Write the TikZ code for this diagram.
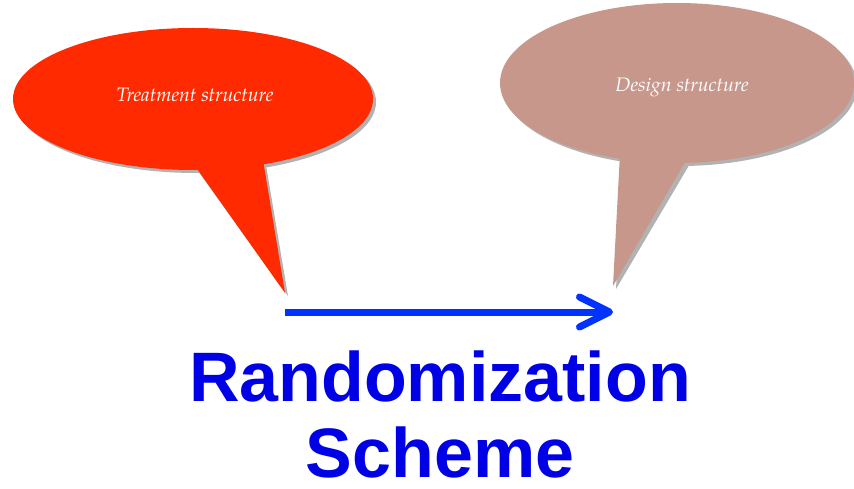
\documentclass[tikz,border=0pt]{standalone}
\usepackage{fontspec}
\setmainfont{Liberation Sans}
\newfontfamily\bubblefont{TeX Gyre Pagella}
\usetikzlibrary{shapes.geometric,arrows.meta}
\definecolor{bubred}{HTML}{FF2A00}
\definecolor{bubbrown}{HTML}{C8978C}
\definecolor{arrblue}{HTML}{0033FF}
\definecolor{txtblue}{HTML}{0000E6}
\tikzset{
  bubble/.style={ellipse, inner sep=0pt},
  shadowfill/.style={fill=black!30},
  bubtext/.style={text=white, font=\bubblefont\itshape\fontsize{19.5}{22}\selectfont},
  bigtext/.style={text=txtblue, inner sep=0pt, font=\bfseries\fontsize{70}{78}\selectfont}
}
\begin{document}
\begin{tikzpicture}[x=1pt,y=-1pt]
\useasboundingbox (0,0) rectangle (854,489);
% shadows
\begin{scope}[shift={(3,3)}]
  \fill[shadowfill] (193,99) ellipse [x radius=180, y radius=71];
  \fill[shadowfill] (195,168) -- (285,293) -- (263,162) -- cycle;
  \fill[shadowfill] (677,83) ellipse [x radius=177, y radius=80];
  \fill[shadowfill] (620,155) -- (613,286) -- (688,159) -- cycle;
\end{scope}
% red bubble
\node[bubble, fill=bubred, minimum width=360, minimum height=142] (treat) at (193,99) {};
\coordinate (tl1) at (195,166);
\coordinate (ttip) at (285,293);
\coordinate (tl2) at (263,160);
\fill[bubred] (tl1) -- (ttip) -- (tl2) -- cycle;
\node[bubtext] (treattext) at (195,95) {Treatment structure};
% brown bubble
\node[bubble, fill=bubbrown, minimum width=354, minimum height=160] (design) at (677,83) {};
\coordinate (dl1) at (620,153);
\coordinate (dtip) at (613,286);
\coordinate (dl2) at (688,157);
\fill[bubbrown] (dl1) -- (dtip) -- (dl2) -- cycle;
\node[bubtext] (designtext) at (682,87) {Design structure};
% arrow
\coordinate (astart) at (285,312);
\coordinate (aend) at (613,312);
\draw[arrblue, line width=7, -{Straight Barb[length=30pt, width=30pt, round]}] (astart) -- (aend);
% text
\node[bigtext] (rand) at (440,376) {Randomization};
\node[bigtext] (scheme) at (440,452) {Scheme};
\end{tikzpicture}
\end{document}
